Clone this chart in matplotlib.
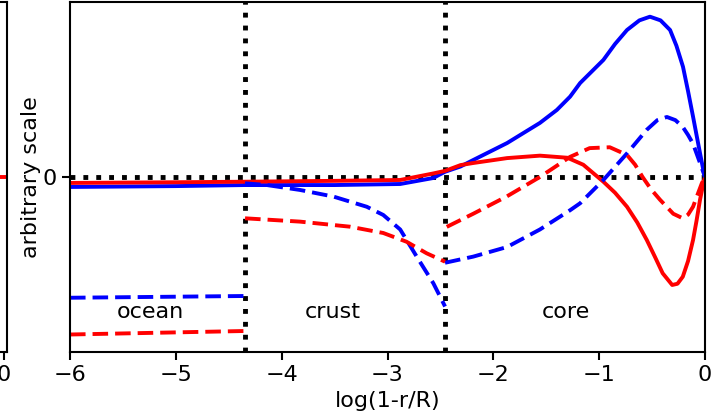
"""
ocean / crust / core profiles on log(1-r/R), arbitrary scale
"""

import matplotlib
matplotlib.use('Agg')
import matplotlib.pyplot as plt
import numpy as np

# layer boundaries in log(1-r/R)
x_ocean_crust = -4.35
x_crust_core = -2.456

# blue solid (whole column)
bs_x = [-6.0, -5.0, -4.35, -3.5, -2.88, -2.57, -2.456, -2.31, -2.19, -1.87, -1.56, -1.40, -1.275, -1.18, -0.96, -0.85, -0.737, -0.62, -0.52, -0.42, -0.33, -0.27, -0.208, -0.16, -0.113, -0.08, -0.047, -0.019, 0.0]
bs_y = [-0.057, -0.052, -0.046, -0.046, -0.040, -0.006, 0.030, 0.06, 0.097, 0.194, 0.309, 0.383, 0.459, 0.537, 0.669, 0.76, 0.84, 0.895, 0.916, 0.895, 0.84, 0.75, 0.63, 0.49, 0.345, 0.24, 0.136, 0.05, 0.0]

# red solid
rs_x = [-6.0, -5.0, -4.35, -3.5, -2.88, -2.57, -2.456, -2.31, -2.19, -1.87, -1.56, -1.30, -1.15, -0.96, -0.85, -0.737, -0.64, -0.55, -0.47, -0.40, -0.31, -0.26, -0.21, -0.16, -0.113, -0.08, -0.047, -0.02, 0.0]
rs_y = [-0.034, -0.030, -0.027, -0.022, -0.017, 0.02, 0.035, 0.068, 0.08, 0.108, 0.122, 0.110, 0.07, -0.027, -0.09, -0.17, -0.26, -0.36, -0.46, -0.55, -0.617, -0.61, -0.57, -0.48, -0.36, -0.25, -0.13, -0.05, 0.0]

# blue dashed, per layer
bd_ocean_x = [-6.0, -4.35]
bd_ocean_y = [-0.69, -0.68]
bd_crust_x = [-4.346, -4.14, -3.827, -3.51, -3.196, -3.04, -2.88, -2.724, -2.567, -2.456]
bd_crust_y = [-0.036, -0.046, -0.074, -0.112, -0.17, -0.217, -0.30, -0.455, -0.607, -0.74]
bd_core_x = [-2.456, -2.19, -1.87, -1.56, -1.275, -1.18, -0.96, -0.737, -0.55, -0.45, -0.36, -0.28, -0.21, -0.16, -0.113, -0.047, 0.0]
bd_core_y = [-0.49, -0.455, -0.40, -0.30, -0.19, -0.15, -0.017, 0.135, 0.27, 0.325, 0.343, 0.325, 0.286, 0.24, 0.19, 0.08, 0.0]

# red dashed, per layer
rd_ocean_x = [-6.0, -4.35]
rd_ocean_y = [-0.90, -0.88]
rd_crust_x = [-4.346, -3.827, -3.354, -3.04, -2.82, -2.63, -2.456]
rd_crust_y = [-0.236, -0.255, -0.284, -0.32, -0.37, -0.436, -0.484]
rd_core_x = [-2.44, -2.19, -1.87, -1.56, -1.275, -1.09, -0.90, -0.737, -0.66, -0.59, -0.51, -0.425, -0.30, -0.21, -0.16, -0.113, -0.07, -0.03, 0.0]
rd_core_y = [-0.285, -0.21, -0.11, 0.0, 0.115, 0.165, 0.17, 0.126, 0.07, 0.0, -0.07, -0.13, -0.21, -0.236, -0.215, -0.17, -0.10, -0.036, 0.0]

layer_names = ['ocean', 'crust', 'core']
layer_label_x = [-5.24, -3.52, -1.31]

plt.rcParams['font.family'] = 'DejaVu Sans'
plt.rcParams['font.size'] = 16


def main():
    fig = plt.figure(figsize=(7.13, 4.16), dpi=100)

    # sliver of the neighbouring panel on the left
    ax0 = fig.add_axes([-100/713., 64/416., 107/713., 350/416.])
    ax0.plot([-1, 0.03], [0, 0], color='red', lw=2.8)
    ax0.set_xlim(-1, 0.03)
    ax0.set_ylim(-1, 1)
    ax0.set_xticks([0])
    ax0.set_yticks([])
    for s in ax0.spines.values():
        s.set_linewidth(1.5)
    ax0.tick_params(width=1.5, length=6)

    ax = fig.add_axes([70/713., 64/416., 635/713., 350/416.])

    ax.axhline(0, color='k', ls=':', lw=3.5)
    ax.axvline(x_ocean_crust, color='k', ls=':', lw=3.5)
    ax.axvline(x_crust_core, color='k', ls=':', lw=3.5)

    ax.plot(bs_x, bs_y, color='blue', lw=2.8)
    ax.plot(rs_x, rs_y, color='red', lw=2.8)

    dash = (0, (4.0, 1.8))
    for xs, ys in [(bd_ocean_x, bd_ocean_y), (bd_crust_x, bd_crust_y), (bd_core_x, bd_core_y)]:
        ax.plot(xs, ys, color='blue', lw=2.8, ls=dash)
    for xs, ys in [(rd_ocean_x, rd_ocean_y), (rd_crust_x, rd_crust_y), (rd_core_x, rd_core_y)]:
        ax.plot(xs, ys, color='red', lw=2.8, ls=dash)

    for name, lx in zip(layer_names, layer_label_x):
        ax.text(lx, -0.77, name, ha='center', va='center', fontsize=16)

    ax.set_xlim(-6, 0)
    ax.set_ylim(-1, 1)
    ax.set_xticks([-6, -5, -4, -3, -2, -1, 0])
    ax.set_yticks([0])
    ax.set_xlabel('log(1-r/R)', labelpad=4)
    ax.set_ylabel('arbitrary scale', labelpad=1)
    for s in ax.spines.values():
        s.set_linewidth(1.5)
    ax.tick_params(width=1.5, length=6)

    fig.savefig('out.png', dpi=100)


if __name__ == '__main__':
    main()
